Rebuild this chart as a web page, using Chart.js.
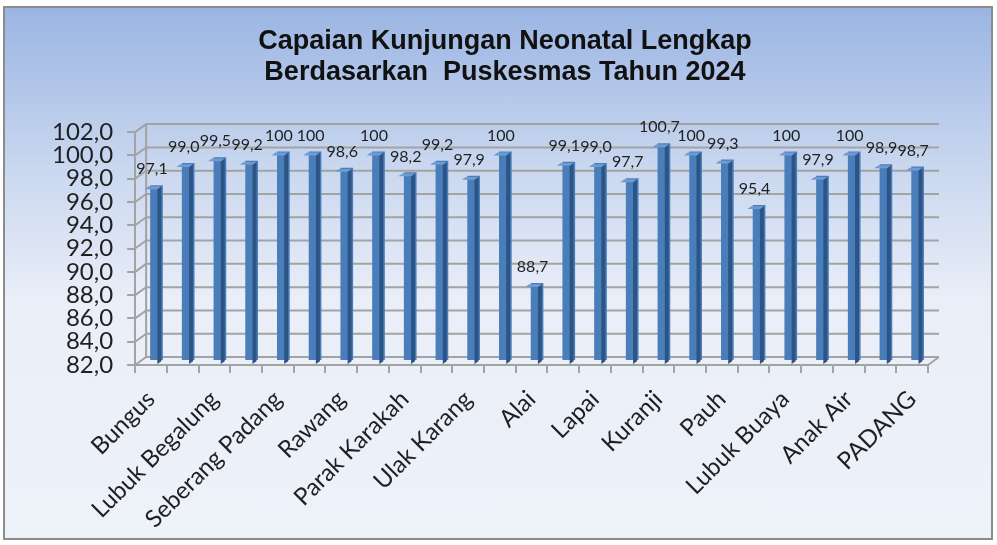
<!DOCTYPE html>
<html>
<head>
<meta charset="utf-8">
<script src="https://cdn.jsdelivr.net/npm/chart.js@4.4.1/dist/chart.umd.min.js"></script>
<style>
  html, body { margin: 0; padding: 0; background: #fff; }
  #frame {
    position: absolute; left: 3px; top: 6px; width: 990px; height: 534px;
    border: 2px solid #8c8c8c; box-sizing: border-box;
    background: linear-gradient(to bottom, #9bb5e3 0%, #c9d7ef 30%, #e9eef8 55%, #eef2f9 100%);
  }
  #wrap { position: absolute; left: 0; top: 0; width: 997px; height: 545px; }
</style>
</head>
<body>
<div id="frame"></div>
<div id="wrap"><canvas id="chart"></canvas></div>
<script>
// ─── Data ──────────────────────────────────────────────
const categories = [
  'Bungus', '', 'Lubuk Begalung', '', 'Seberang Padang', '', 'Rawang', '',
  'Parak Karakah', '', 'Ulak Karang', '', 'Alai', '', 'Lapai', '', 'Kuranji', '',
  'Pauh', '', 'Lubuk Buaya', '', 'Anak Air', '', 'PADANG'
];
const values = [
  97.1, 99.0, 99.5, 99.2, 100, 100, 98.6, 100, 98.2, 99.2, 97.9, 100, 88.7,
  99.1, 99.0, 97.7, 100.7, 100, 99.3, 95.4, 100, 97.9, 100, 98.9, 98.7
];
const titleLines = ['Capaian Kunjungan Neonatal Lengkap', 'Berdasarkan  Puskesmas Tahun 2024'];
const yMin = 82, yMax = 102, yStep = 2;

// ─── Shared config ─────────────────────────────────────
const C = {
  front: '#4a7ebb',
  side:  '#2c5485',
  top:   '#6f9bd2',
  grid:  '#a3a3a3',
  text:  '#1f1f1f',
  font:  "Lato, 'Open Sans', sans-serif"
};
const DX = 11, DY = 8;   // depth of the back wall

const fmt = v => v === 100 ? '100' : v.toFixed(1).replace('.', ',');

// title sits a little right of the canvas centre, like the original
const titleNudge = {
  id: 'titleNudge',
  afterLayout(chart) {
    const t = chart.titleBlock;
    if (t) { t.left += 22; t.right += 22; }
  }
};

// back wall grid, left wall and floor
const walls = {
  id: 'walls',
  beforeDatasetsDraw(chart) {
    const { ctx, chartArea: a, scales: { y } } = chart;
    ctx.save();
    ctx.strokeStyle = C.grid;
    ctx.lineWidth = 2;
    ctx.beginPath();
    y.ticks.forEach(t => {
      const py = y.getPixelForValue(t.value);
      ctx.moveTo(a.left, py);
      ctx.lineTo(a.left + DX, py - DY);
      ctx.lineTo(a.right + DX, py - DY);
    });
    // left back wall edge
    ctx.moveTo(a.left + DX, a.top - DY);
    ctx.lineTo(a.left + DX, a.bottom - DY);
    // floor right edge
    ctx.moveTo(a.right, a.bottom);
    ctx.lineTo(a.right + DX, a.bottom - DY);
    ctx.stroke();
    ctx.restore();
  }
};

// bars stand half way into the depth of the plot
const depthShift = {
  id: 'depthShift',
  beforeDatasetsDraw(chart) {
    chart.ctx.save();
    chart.ctx.translate(DX / 2, -DY / 2);
  },
  afterDatasetsDraw(chart) {
    chart.ctx.restore();
  }
};

// 3D-ish side + cap for each bar, drawn from the bar elements themselves
const bar3d = {
  id: 'bar3d',
  afterDatasetsDraw(chart) {
    const ctx = chart.ctx;
    const meta = chart.getDatasetMeta(0);
    const base = chart.chartArea.bottom - 1;
    const d = 4;
    ctx.save();
    meta.data.forEach(b => {
      const l = b.x - b.width / 2, r = b.x + b.width / 2;
      ctx.fillStyle = C.side;
      ctx.beginPath();
      ctx.moveTo(r, b.y); ctx.lineTo(r + d, b.y - d * 0.7);
      ctx.lineTo(r + d, base - d * 0.7); ctx.lineTo(r, base);
      ctx.closePath(); ctx.fill();
      ctx.fillStyle = C.top;
      ctx.beginPath();
      ctx.moveTo(l, b.y); ctx.lineTo(l + d, b.y - d * 0.7);
      ctx.lineTo(r + d, b.y - d * 0.7); ctx.lineTo(r, b.y);
      ctx.closePath(); ctx.fill();
    });
    ctx.restore();
  }
};

// value labels above bars
const valueLabels = {
  id: 'valueLabels',
  afterDatasetsDraw(chart) {
    const ctx = chart.ctx;
    const meta = chart.getDatasetMeta(0);
    ctx.save();
    ctx.font = "16px " + C.font;
    ctx.fillStyle = C.text;
    ctx.textAlign = 'center';
    ctx.textBaseline = 'middle';
    meta.data.forEach((b, i) => {
      ctx.fillText(fmt(values[i]), b.x + 1, b.y - 20);
    });
    ctx.restore();
  }
};

new Chart(document.getElementById('chart').getContext('2d'), {
  type: 'bar',
  data: {
    labels: categories,
    datasets: [{
      data: values,
      base: yMin,
      backgroundColor: C.front,
      borderWidth: 0,
      categoryPercentage: 1,
      barPercentage: 0.4
    }]
  },
  options: {
    responsive: true,
    maintainAspectRatio: false,
    animation: false,
    layout: { padding: { left: 38, right: 69, top: 16, bottom: 0 } },
    plugins: {
      legend: { display: false },
      tooltip: { enabled: false },
      title: {
        display: true,
        text: titleLines,
        color: '#111',
        font: { size: 27, weight: 'bold', family: "'Liberation Sans', Arial, sans-serif", lineHeight: 1.15 },
        padding: { top: 10, bottom: 44 }
      }
    },
    scales: {
      x: {
        grid: { display: true, drawOnChartArea: false, drawTicks: true, tickLength: 8,
                offset: true, color: C.grid, lineWidth: 2 },
        border: { display: true, color: C.grid, width: 2 },
        ticks: {
          color: C.text, autoSkip: false, maxRotation: 45, minRotation: 45,
          font: { size: 24, family: C.font }, padding: 12
        },
        afterFit: scale => { scale.height = 180; }
      },
      y: {
        min: yMin, max: yMax,
        grid: { drawOnChartArea: false, drawTicks: true, color: C.grid, lineWidth: 2, tickLength: 8 },
        border: { display: true, color: C.grid, width: 2 },
        ticks: {
          stepSize: yStep, autoSkip: false, color: C.text, padding: 14,
          font: { size: 24, family: C.font },
          callback: v => v.toFixed(1).replace('.', ',')
        }
      }
    }
  },
  plugins: [titleNudge, walls, depthShift, bar3d, valueLabels]
});
</script>
</body>
</html>
